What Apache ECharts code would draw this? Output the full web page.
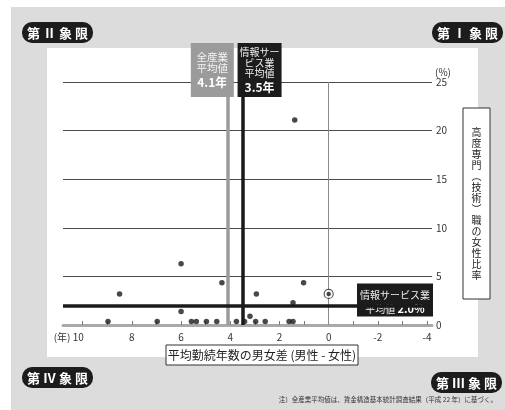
<!DOCTYPE html>
<html><head><meta charset="utf-8">
<script src="https://cdn.jsdelivr.net/npm/echarts@6/dist/echarts.min.js"></script>
<style>html,body{margin:0;padding:0;background:#fff}#c{width:505px;height:410px}</style>
</head><body><div id="c"></div>
<script>
const FONT = '"Noto Sans CJK JP", "Noto Sans", sans-serif';

// industries: gap in average tenure (male - female, years) and female share of professional/technical jobs (%)
const tenureGap   = [1.38, 6.0, 8.5, 4.34, 2.94, 1.02, 1.45, 6.0, 3.2, 8.97, 6.97, 5.58, 5.38, 4.97, 4.55, 3.75, 3.42, 2.97, 2.58, 1.61, 1.45];
const femaleShare = [21.1, 6.3, 3.2, 4.35, 3.2, 4.35, 2.3, 1.4, 0.9, 0.35, 0.35, 0.35, 0.35, 0.35, 0.35, 0.35, 0.35, 0.35, 0.35, 0.35, 0.35];
// highlighted industry (information services)
const highlightGap = [0];
const highlightShare = [3.2];
// reference averages
const allIndustryAvgGap = 4.1;
const infoServiceAvgGap = 3.5;
const infoServiceAvgShare = 2.0;
// axes
const xTickValues = [-4, -3, -2, -1, 0, 1, 2, 3, 4, 5, 6, 7, 8, 9, 10];
const xLabelValues = [10, 8, 6, 4, 2, 0, -2, -4];
const yMin = 0, yMax = 25, yStep = 5;

const points = tenureGap.map((g, i) => [g, femaleShare[i]]);
const hiPoints = highlightGap.map((g, i) => [g, highlightShare[i]]);

const chart = echarts.init(document.getElementById('c'), null, {renderer: 'canvas'});

const option = {
  backgroundColor: '#ffffff',
  animation: false,
  textStyle: {fontFamily: FONT},
  grid: {left: 63, right: 73, top: 82, bottom: 85, containLabel: false},
  xAxis: {
    type: 'value', inverse: true, min: -4.2, max: 10.8,
    splitLine: {show: false},
    axisLine: {show: true, onZero: false, lineStyle: {color: '#a9a9a9', width: 3}},
    axisTick: {show: true, inside: true, length: 4, customValues: xTickValues, lineStyle: {color: '#777', width: 1}},
    axisLabel: {
      show: true, customValues: xLabelValues, margin: 7, fontSize: 10, color: '#333', fontFamily: FONT,
      formatter: v => v === 10 ? '{a|(年) 10}' : String(v),
      rich: {a: {fontSize: 10, color: '#333', fontFamily: FONT, padding: [0, 28, 0, 0]}}
    }
  },
  yAxis: {
    type: 'value', position: 'right', min: yMin, max: yMax, interval: yStep,
    name: '(%)', nameLocation: 'end', nameGap: 4,
    nameTextStyle: {fontSize: 10, color: '#333', align: 'left', padding: [0, 0, 0, 3], fontFamily: FONT},
    axisLine: {show: false, onZero: false}, axisTick: {show: false},
    axisLabel: {margin: 4, fontSize: 10, color: '#333', fontFamily: FONT},
    splitLine: {show: true, lineStyle: {color: '#4a4a4a', width: 1}}
  },
  series: [
    {
      type: 'scatter', data: [], z: 1, silent: true,
      markLine: {
        silent: true, symbol: ['none', 'none'], label: {show: false},
        data: [
          {xAxis: 0, lineStyle: {color: '#8a8a8a', width: 1, type: 'solid'}},
          {xAxis: allIndustryAvgGap, lineStyle: {color: '#9b9b9b', width: 3.5, type: 'solid'}},
          {xAxis: infoServiceAvgGap, lineStyle: {color: '#1a1a1a', width: 3.5, type: 'solid'}},
          {yAxis: infoServiceAvgShare, lineStyle: {color: '#1a1a1a', width: 3.5, type: 'solid'}}
        ]
      }
    },
    {
      type: 'scatter', data: points, z: 5, symbol: 'circle', symbolSize: 5.5,
      itemStyle: {color: '#1a1a1a'}
    },
    {
      type: 'scatter', data: hiPoints, z: 5, symbol: 'circle', symbolSize: 9,
      itemStyle: {color: '#ffffff', borderColor: '#333', borderWidth: 1.2}
    },
    {
      type: 'scatter', data: hiPoints, z: 6, symbol: 'circle', symbolSize: 4.5,
      itemStyle: {color: '#1a1a1a'}
    }
  ]
};
chart.setOption(option);

const pAll = chart.convertToPixel({gridIndex: 0}, [allIndustryAvgGap, yMax]);
const pInfo = chart.convertToPixel({gridIndex: 0}, [infoServiceAvgGap, yMax]);
const pH = chart.convertToPixel({gridIndex: 0}, [-4.2, infoServiceAvgShare]);

function quadrant(x, y, text) {
  return {
    type: 'group', x: x, y: y, z: 100,
    children: [
      {type: 'rect', shape: {x: 0, y: 0, width: 71, height: 21, r: 10}, style: {fill: '#1c1c1c'}},
      {type: 'text', style: {x: 35.5, y: 11, text: text, fill: '#fff', font: 'bold 13px ' + FONT, align: 'center', verticalAlign: 'middle'}}
    ]
  };
}
function line(x, y, text, font, fill) {
  return {type: 'text', style: {x: x, y: y, text: text, fill: fill, font: font + ' ' + FONT, align: 'center', verticalAlign: 'middle'}};
}

const vTitle = '高度専門︵技術︶職の女性比率'.split('').join('\n');

chart.setOption({
  graphic: [
    {type: 'rect', z: -10, shape: {x: 11, y: 7, width: 494, height: 403}, style: {fill: '#dcdcdc'}},
    {type: 'rect', z: -9, shape: {x: 47, y: 48, width: 431, height: 309}, style: {fill: '#ffffff'}},
    // all-industry average box
    {type: 'group', z: 100, x: pAll[0] + 6 - 43, y: 43, children: [
      {type: 'rect', shape: {x: 0, y: 0, width: 43, height: 54}, style: {fill: '#9b9b9b'}},
      line(21.5, 14, '全産業', '10.5px', '#f4f4f4'),
      line(21.5, 25.5, '平均値', '10.5px', '#f4f4f4'),
      line(21.5, 39.5, '4.1年', 'bold 12px', '#ffffff')
    ]},
    // info-service average box (vertical)
    {type: 'group', z: 100, x: pInfo[0] - 5, y: 43, children: [
      {type: 'rect', shape: {x: 0, y: 0, width: 44, height: 54}, style: {fill: '#1c1c1c'}},
      line(22, 9.5, '情報サー', '10px', '#eeeeee'),
      line(22, 20, 'ビス業', '10px', '#eeeeee'),
      line(22, 30.5, '平均値', '10px', '#eeeeee'),
      line(22, 44, '3.5年', 'bold 12px', '#ffffff')
    ]},
    // info-service average box (horizontal)
    {type: 'group', z: 100, x: 357, y: pH[1] - 22, children: [
      {type: 'rect', shape: {x: 0, y: 0, width: 76, height: 33}, style: {fill: '#1c1c1c'}},
      line(38, 11.5, '情報サービス業', '10px', '#eeeeee'),
      {type: 'text', style: {x: 38, y: 25.5, align: 'center', verticalAlign: 'middle', text: '平均値 {b|2.0%}', fill: '#eeeeee', font: '10px ' + FONT,
        rich: {b: {fontSize: 11, fontWeight: 'bold', fill: '#ffffff', fontFamily: FONT}}}}
    ]},
    // y-axis title box
    {type: 'group', z: 100, x: 463, y: 108, children: [
      {type: 'rect', shape: {x: 0, y: 0, width: 27, height: 191}, style: {fill: '#fff', stroke: '#333', lineWidth: 1}},
      {type: 'text', style: {x: 13.5, y: 95.5, align: 'center', verticalAlign: 'middle', text: vTitle, fill: '#222', font: '10px ' + FONT, lineHeight: 11}}
    ]},
    // x-axis title box
    {type: 'group', z: 100, x: 166, y: 345, children: [
      {type: 'rect', shape: {x: 0, y: 0, width: 192, height: 20}, style: {fill: '#fff', stroke: '#333', lineWidth: 1}},
      {type: 'text', style: {x: 96, y: 10.5, align: 'center', verticalAlign: 'middle', text: '平均勤続年数の男女差 (男性 - 女性)', fill: '#222', font: '12px ' + FONT}}
    ]},
    quadrant(22, 22, '第 Ⅱ 象 限'),
    quadrant(432, 22, '第 Ⅰ 象 限'),
    quadrant(22, 367, '第 Ⅳ 象 限'),
    quadrant(431, 372, '第 Ⅲ 象 限'),
    {type: 'text', z: 100, style: {x: 497, y: 400, align: 'right', verticalAlign: 'middle', text: '注）全産業平均値は、賃金構造基本統計調査結果（平成 22 年）に基づく。', fill: '#333', font: '6.5px ' + FONT}}
  ]
});
</script>
</body></html>
